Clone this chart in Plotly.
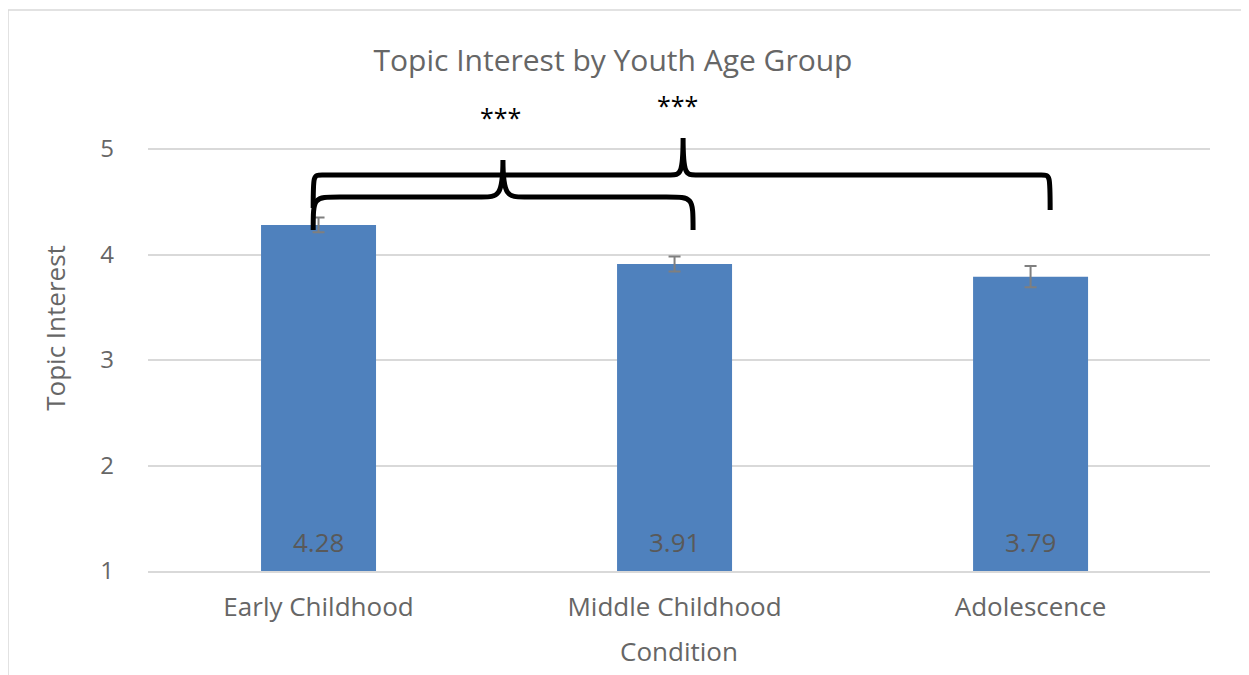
import plotly.graph_objects as go

categories = ["Early Childhood", "Middle Childhood", "Adolescence"]
means = [4.28, 3.91, 3.79]
errors = [0.07, 0.07, 0.1]
labels = ["4.28", "3.91", "3.79"]
y_ticks = [1, 2, 3, 4, 5]

FONT = "Open Sans"
GRAY = "#666666"

W, H = 1249, 675
# the page adds an 8px body margin; positions below are in figure pixels
L, R, T, B = 140, 47, 77, 112
PW, PH = W - L - R, H - T - B
UNIT_Y = 105.5
ymax = 1 + PH / UNIT_Y
xr = [-0.479, 2.504]

fig = go.Figure()
fig.add_trace(go.Bar(
    x=list(range(len(categories))), y=[m - 1 for m in means], base=1,
    width=0.323,
    marker=dict(color="#4F81BD", line=dict(width=0)),
    error_y=dict(type="data", array=errors, color="#7F7F7F", thickness=2, width=6),
    hoverinfo="skip",
))


def brace(x0, x1, xm, yb0, yb1, yh, yp, rx, cw):
    return (f"M {x0},{yb0} C {x0},{yh} {x0},{yh} {x0+rx},{yh} "
            f"L {xm-cw},{yh} C {xm-cw*0.25},{yh} {xm},{yh} {xm},{yp} "
            f"C {xm},{yh} {xm+cw*0.25},{yh} {xm+cw},{yh} "
            f"L {x1-rx},{yh} C {x1},{yh} {x1},{yh} {x1},{yb1}")


shapes = [
    dict(type="path", xref="x", yref="y",
         path=brace(-0.015, 1.052, 0.518, 4.232, 4.232, 4.545, 4.896, 0.075, 0.06),
         line=dict(color="black", width=5)),
    dict(type="path", xref="x", yref="y",
         path=brace(-0.015, 2.055, 1.024, 4.441, 4.422, 4.754, 5.104, 0.025, 0.035),
         line=dict(color="black", width=5)),
    dict(type="rect", xref="paper", yref="paper",
         x0=-L / PW, x1=(1238 - L) / PW,
         y0=(PH + T - 700) / PH, y1=(PH + T - 2) / PH,
         line=dict(color="#D9D9D9", width=1.5), fillcolor="rgba(0,0,0,0)", layer="below"),
]

annotations = [
    dict(x=i, y=1, xref="x", yref="y", text=lab, showarrow=False, yanchor="middle", yshift=29,
         font=dict(family=FONT, size=26, color="#595959"))
    for i, lab in enumerate(labels)
]
annotations += [
    dict(x=0.511, y=5.30, xref="x", yref="y", text="***", showarrow=False,
         font=dict(family=FONT, size=25, color="black")),
    dict(x=1.007, y=5.42, xref="x", yref="y", text="***", showarrow=False,
         font=dict(family=FONT, size=25, color="black")),
]

fig.update_layout(
    width=W, height=H,
    margin=dict(l=L, r=R, t=T, b=B),
    paper_bgcolor="white", plot_bgcolor="white",
    showlegend=False,
    title=dict(text="Topic Interest by Youth Age Group", x=605 / W, xanchor="center",
               y=1 - 52 / H, yanchor="middle",
               font=dict(family=FONT, size=30, color=GRAY)),
    font=dict(family=FONT, color=GRAY),
    xaxis=dict(title=dict(text="Condition", font=dict(size=26, color=GRAY), standoff=20),
               range=xr, tickvals=list(range(len(categories))), ticktext=categories,
               tickfont=dict(size=26, color=GRAY), showline=True, linecolor="#D9D9D9",
               linewidth=1.5, ticks="", showgrid=False, zeroline=False,
               ticklabelstandoff=12),
    yaxis=dict(title=dict(text="Topic Interest", font=dict(size=26, color=GRAY), standoff=27),
               range=[1, ymax], tickvals=y_ticks, tickfont=dict(size=24, color=GRAY),
               showgrid=True, gridcolor="#D9D9D9", gridwidth=1.5, zeroline=False,
               ticks="", ticklabelstandoff=33),
    shapes=shapes,
    annotations=annotations,
)

fig.write_html("out.html")
